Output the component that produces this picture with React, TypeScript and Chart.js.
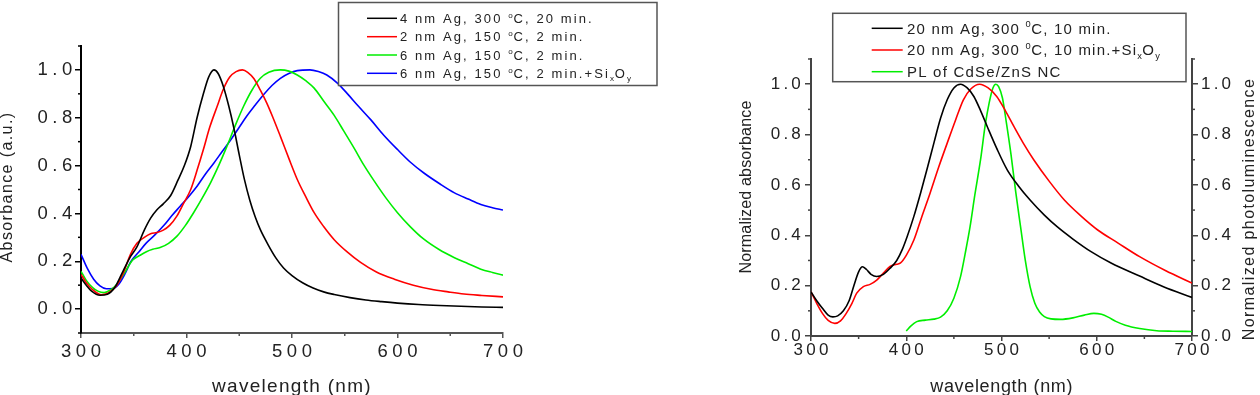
import React, { useEffect, useRef } from "react";
import { Chart, registerables } from "chart.js";

Chart.register(...registerables);

const FONT = 'Arial, "Liberation Sans", Helvetica, sans-serif';

// ---------------- Left panel data ----------------
const leftBlackWl = [300, 305, 310, 318, 325, 332, 340, 347, 353, 360, 366, 372, 378, 385, 392, 398, 404, 410, 416, 421, 426, 430, 435, 440, 445, 450, 455, 460, 465, 470, 477, 485, 492, 500, 510, 520, 530, 540, 555, 570, 585, 600, 620, 640, 660, 680, 700];
const leftBlackAbs = [0.13, 0.1, 0.075, 0.058, 0.062, 0.09, 0.16, 0.22, 0.26, 0.33, 0.38, 0.415, 0.44, 0.475, 0.54, 0.6, 0.68, 0.8, 0.9, 0.97, 1.0, 0.985, 0.93, 0.85, 0.755, 0.645, 0.54, 0.455, 0.387, 0.332, 0.272, 0.212, 0.172, 0.14, 0.11, 0.088, 0.072, 0.061, 0.048, 0.038, 0.031, 0.025, 0.019, 0.015, 0.012, 0.009, 0.007];

const leftRedWl = [300, 305, 310, 319, 326, 334, 340, 347, 353, 360, 366, 372, 378, 384, 391, 397, 404, 410, 416, 422, 429, 435, 441, 447, 453, 458, 464, 470, 476, 482, 489, 497, 505, 513, 521, 530, 540, 552, 565, 580, 597, 615, 632, 648, 663, 680, 700];
const leftRedAbs = [0.145, 0.11, 0.085, 0.06, 0.068, 0.1, 0.15, 0.23, 0.275, 0.3, 0.315, 0.32, 0.33, 0.35, 0.39, 0.44, 0.5, 0.58, 0.667, 0.76, 0.847, 0.92, 0.97, 0.993, 1.0, 0.99, 0.963, 0.915, 0.862, 0.8, 0.722, 0.63, 0.542, 0.47, 0.403, 0.345, 0.29, 0.24, 0.195, 0.155, 0.125, 0.1, 0.083, 0.072, 0.063, 0.057, 0.051];

const leftGreenWl = [300, 305, 311, 316, 322, 328, 334, 341, 349, 356, 362, 368, 375, 383, 391, 399, 407, 415, 423, 431, 438, 446, 454, 462, 470, 478, 489, 497, 505, 513, 521, 530, 540, 549, 559, 568, 578, 589, 600, 612, 625, 639, 654, 667, 679, 690, 700];
const leftGreenAbs = [0.158, 0.12, 0.09, 0.075, 0.069, 0.08, 0.104, 0.15, 0.205, 0.225, 0.24, 0.25, 0.257, 0.275, 0.305, 0.35, 0.405, 0.465, 0.53, 0.605, 0.677, 0.765, 0.847, 0.915, 0.965, 0.99, 1.0, 0.995, 0.979, 0.955, 0.924, 0.87, 0.81, 0.745, 0.672, 0.603, 0.535, 0.465, 0.403, 0.345, 0.292, 0.25, 0.215, 0.19, 0.167, 0.153, 0.142];

const leftBlueWl = [300, 306, 312, 318, 324, 330, 336, 342, 347, 355, 362, 370, 378, 386, 394, 402, 410, 418, 426, 434, 442, 450, 457, 465, 473, 481, 489, 497, 505, 517, 525, 533, 543, 552, 563, 575, 587, 600, 612, 625, 640, 654, 667, 679, 690, 700];
const leftBlueAbs = [0.229, 0.17, 0.125, 0.097, 0.085, 0.086, 0.105, 0.15, 0.197, 0.24, 0.277, 0.31, 0.347, 0.39, 0.43, 0.47, 0.514, 0.565, 0.611, 0.66, 0.708, 0.76, 0.806, 0.852, 0.896, 0.935, 0.965, 0.985, 0.997, 1.0, 0.993, 0.979, 0.945, 0.903, 0.848, 0.79, 0.727, 0.667, 0.615, 0.569, 0.524, 0.486, 0.46, 0.4375, 0.424, 0.414];

const leftLabels = [
  "4 nm Ag, 300 {^o}C, 20 min.",
  "2 nm Ag, 150 {^o}C, 2 min.",
  "6 nm Ag, 150 {^o}C, 2 min.",
  "6 nm Ag, 150 {^o}C, 2 min.+Si{_x}O{_y}",
];
const leftXTicks = [300, 400, 500, 600, 700];
const leftXMinor = [350, 450, 550, 650];
const leftYTicks = [0, 0.2, 0.4, 0.6, 0.8, 1.0];
const leftYMinor = [-0.1, 0.1, 0.3, 0.5, 0.7, 0.9, 1.1];

// ---------------- Right panel data ----------------
const rightBlackWl = [300, 306, 312, 318, 323, 328, 334, 340, 345, 350, 354, 358, 363, 369, 376, 383, 390, 396, 401, 408, 415, 422, 429, 436, 443, 450, 457, 464, 471, 478, 485, 495, 506, 518, 530, 545, 559, 575, 594, 615, 645, 670, 700];
const rightBlackAbs = [0.175, 0.14, 0.11, 0.083, 0.076, 0.08, 0.1, 0.14, 0.2, 0.255, 0.275, 0.265, 0.245, 0.236, 0.245, 0.269, 0.3, 0.345, 0.395, 0.475, 0.567, 0.665, 0.766, 0.865, 0.938, 0.985, 1.0, 0.985, 0.951, 0.895, 0.832, 0.745, 0.66, 0.595, 0.54, 0.48, 0.432, 0.385, 0.335, 0.29, 0.238, 0.196, 0.153];

const rightRedWl = [300, 306, 312, 318, 325, 331, 337, 343, 348, 355, 362, 369, 376, 383, 390, 394, 400, 408, 416, 425, 434, 443, 452, 460, 468, 477, 486, 495, 504, 513, 523, 534, 550, 566, 583, 601, 622, 645, 672, 700];
const rightRedAbs = [0.175, 0.13, 0.09, 0.062, 0.05, 0.06, 0.09, 0.13, 0.17, 0.196, 0.205, 0.222, 0.25, 0.276, 0.285, 0.29, 0.32, 0.381, 0.47, 0.567, 0.67, 0.766, 0.86, 0.938, 0.982, 1.0, 0.985, 0.951, 0.895, 0.832, 0.765, 0.699, 0.615, 0.54, 0.478, 0.421, 0.37, 0.315, 0.26, 0.21];

const rightPlWl = [400, 405, 411, 420, 429, 436, 443, 450, 457, 462, 467, 472, 478, 483, 487, 491, 494, 497, 501, 505, 510, 515, 520, 525, 530, 535, 540, 545, 552, 562, 575, 587, 597, 605, 612, 620, 630, 645, 663, 680, 700];
const rightPlInt = [0.02, 0.04, 0.057, 0.063, 0.067, 0.075, 0.1, 0.15, 0.236, 0.33, 0.434, 0.56, 0.7, 0.84, 0.925, 0.985, 1.0, 0.99, 0.945, 0.85, 0.72, 0.57, 0.434, 0.3, 0.196, 0.13, 0.095, 0.077, 0.068, 0.066, 0.072, 0.083, 0.09, 0.086, 0.075, 0.058, 0.043, 0.03, 0.021, 0.019, 0.018];

const rightLabels = [
  "20 nm Ag, 300 {^0}C, 10 min.",
  "20 nm Ag, 300 {^0}C, 10 min.+Si{_x}O{_y}",
  "PL of CdSe/ZnS NC",
];
const rightXTicks = [300, 400, 500, 600, 700];
const rightXMinor = [350, 450, 550, 650];
const rightYTicks = [0, 0.2, 0.4, 0.6, 0.8, 1.0];
const rightYMinor = [0.1, 0.3, 0.5, 0.7, 0.9, 1.1];

const BLACK = "#000000";
const RED = "#ff0000";
const GREEN = "#00ee00";
const BLUE = "#0000ff";
const TEXT = "#222222";

// ---------------- helpers ----------------
type Seg = { t: string; k: "n" | "sup" | "sub" };
function parseRich(s: string): Seg[] {
  const segs: Seg[] = [];
  const re = /\{([\^_])([^}]*)\}/g;
  let last = 0;
  let m: RegExpExecArray | null;
  while ((m = re.exec(s))) {
    if (m.index > last) segs.push({ t: s.slice(last, m.index), k: "n" });
    segs.push({ t: m[2], k: m[1] === "^" ? "sup" : "sub" });
    last = re.lastIndex;
  }
  if (last < s.length) segs.push({ t: s.slice(last), k: "n" });
  return segs;
}
function stripRich(s: string) {
  return s.replace(/\{[\^_]([^}]*)\}/g, "$1");
}
function drawRich(ctx: any, s: string, x: number, baseline: number, size: number, spacing: number) {
  let cx = x;
  ctx.textAlign = "left";
  ctx.textBaseline = "alphabetic";
  for (const seg of parseRich(s)) {
    const fs = seg.k === "n" ? size : size * 0.62;
    const dy = seg.k === "sup" ? -size * 0.42 : seg.k === "sub" ? size * 0.22 : 0;
    ctx.font = `${fs}px ${FONT}`;
    ctx.letterSpacing = `${seg.k === "n" ? spacing : spacing * 0.4}px`;
    ctx.fillText(seg.t, cx, baseline + dy);
    cx += ctx.measureText(seg.t).width;
  }
}

function series(label: string, xs: number[], ys: number[], color: string, yAxisID = "y") {
  return {
    label: stripRich(label),
    data: xs.map((x, i) => ({ x, y: ys[i] })),
    borderColor: color,
    backgroundColor: color,
    borderWidth: 1.6,
    pointRadius: 0,
    tension: 0.4,
    cubicInterpolationMode: "monotone",
    fill: false,
    yAxisID,
  };
}

type TitleSpec = { text: string; x: number; y: number; rot: boolean; size: number; spacing: number };
type PanelSpec = {
  width: number;
  datasets: any[];
  xMin: number; xMax: number; yMin: number; yMax: number;
  xTicks: number[]; yTicks: number[]; xMinor: number[]; yMinor: number[];
  hasY2: boolean;
  padding: { top: number; left: number; right: number; bottom: number };
  yWidth: number; xHeight: number; y2Width: number;
  xAxisColor: string; yAxisColor: string;
  tickSize: number; tickSpacing: number;
  xTickLen: number; yTickLen: number; minorLen: number;
  xTickPad: number; yTickPad: number; y2TickPad: number;
  titles: TitleSpec[];
  legend: { box: [number, number, number, number]; line: [number, number]; textX: number; rows: number[]; size: number; spacing: number; labels: string[]; colors: string[] };
};

function zeroPad(s: any) {
  s.paddingLeft = 0; s.paddingRight = 0; s.paddingTop = 0; s.paddingBottom = 0;
}

function makeConfig(p: PanelSpec): any {
  const tickFont = { family: FONT, size: p.tickSize, lineHeight: 1 };
  const yAxis = (pos: string, pad: number, width: number) => ({
    type: "linear",
    position: pos,
    min: p.yMin,
    max: p.yMax,
    afterBuildTicks: (s: any) => { s.ticks = p.yTicks.map((v) => ({ value: v })); },
    afterFit: (s: any) => { s.width = width; zeroPad(s); },
    ticks: { font: tickFont, color: TEXT, padding: pad, autoSkip: false, callback: (v: any) => Number(v).toFixed(1) },
    grid: { drawOnChartArea: false, drawTicks: true, tickLength: p.yTickLen, color: p.yAxisColor, lineWidth: 1.5 },
    border: { display: true, color: p.yAxisColor, width: 2 },
    title: { display: false },
  });
  const scales: any = {
    x: {
      type: "linear",
      position: "bottom",
      min: p.xMin,
      max: p.xMax,
      afterBuildTicks: (s: any) => { s.ticks = p.xTicks.map((v) => ({ value: v })); },
      afterFit: (s: any) => { s.height = p.xHeight; zeroPad(s); },
      ticks: { font: tickFont, color: TEXT, padding: p.xTickPad, maxRotation: 0, autoSkip: false, labelOffset: p.tickSpacing / 2, callback: (v: any) => String(v) },
      grid: { drawOnChartArea: false, drawTicks: true, tickLength: p.xTickLen, color: p.xAxisColor, lineWidth: 1.5 },
      border: { display: true, color: p.xAxisColor, width: 2 },
      title: { display: false },
    },
    y: yAxis("left", p.yTickPad, p.yWidth),
  };
  if (p.hasY2) scales.y2 = yAxis("right", p.y2TickPad, p.y2Width);

  const plugin = {
    id: "decor",
    beforeDraw(chart: any) {
      chart.ctx.letterSpacing = `${p.tickSpacing}px`;
    },
    beforeDatasetsDraw(chart: any) {
      chart.ctx.letterSpacing = "0px";
    },
    afterDraw(chart: any) {
      const ctx = chart.ctx;
      ctx.save();
      ctx.letterSpacing = "0px";
      // minor ticks
      const xs = chart.scales.x;
      ctx.strokeStyle = p.xAxisColor;
      ctx.lineWidth = 1.5;
      for (const v of p.xMinor) {
        const px = xs.getPixelForValue(v);
        ctx.beginPath(); ctx.moveTo(px, xs.top); ctx.lineTo(px, xs.top + p.minorLen); ctx.stroke();
      }
      const ys = chart.scales.y;
      ctx.strokeStyle = p.yAxisColor;
      for (const v of p.yMinor) {
        const py = ys.getPixelForValue(v);
        ctx.beginPath(); ctx.moveTo(ys.right - p.minorLen, py); ctx.lineTo(ys.right, py); ctx.stroke();
      }
      if (p.hasY2) {
        const y2 = chart.scales.y2;
        for (const v of p.yMinor) {
          const py = y2.getPixelForValue(v);
          ctx.beginPath(); ctx.moveTo(y2.left, py); ctx.lineTo(y2.left + p.minorLen, py); ctx.stroke();
        }
      }
      // axis titles
      ctx.fillStyle = TEXT;
      for (const t of p.titles) {
        ctx.save();
        ctx.font = `${t.size}px ${FONT}`;
        ctx.letterSpacing = `${t.spacing}px`;
        ctx.textAlign = "center";
        ctx.textBaseline = "alphabetic";
        ctx.translate(t.x, t.y);
        if (t.rot) ctx.rotate(-Math.PI / 2);
        ctx.fillText(t.text, 0, 0);
        ctx.restore();
      }
      // legend
      const L = p.legend;
      const [x1, y1, x2, y2b] = L.box;
      ctx.fillStyle = "#ffffff";
      ctx.fillRect(x1, y1, x2 - x1, y2b - y1);
      ctx.strokeStyle = "#555555";
      ctx.lineWidth = 1.5;
      ctx.strokeRect(x1, y1, x2 - x1, y2b - y1);
      L.labels.forEach((lab, i) => {
        const ry = L.rows[i];
        ctx.strokeStyle = L.colors[i];
        ctx.lineWidth = 1.5;
        ctx.beginPath(); ctx.moveTo(L.line[0], ry); ctx.lineTo(L.line[1], ry); ctx.stroke();
        ctx.fillStyle = TEXT;
        drawRich(ctx, lab, L.textX, ry + L.size * 0.36, L.size, L.spacing);
      });
      ctx.restore();
      ctx.letterSpacing = "0px";
    },
  };

  return {
    type: "line",
    data: { datasets: p.datasets },
    options: {
      animation: false,
      responsive: false,
      maintainAspectRatio: false,
      devicePixelRatio: 1,
      events: [],
      layout: { padding: p.padding },
      plugins: { legend: { display: false }, tooltip: { enabled: false }, title: { display: false } },
      scales,
    },
    plugins: [plugin],
  };
}

const leftSpec: PanelSpec = {
  width: 680,
  datasets: [
    series(leftLabels[0], leftBlackWl, leftBlackAbs, BLACK),
    series(leftLabels[1], leftRedWl, leftRedAbs, RED),
    series(leftLabels[2], leftGreenWl, leftGreenAbs, GREEN),
    series(leftLabels[3], leftBlueWl, leftBlueAbs, BLUE),
  ],
  xMin: 300, xMax: 700, yMin: -0.1, yMax: 1.1,
  xTicks: leftXTicks, yTicks: leftYTicks, xMinor: leftXMinor, yMinor: leftYMinor,
  hasY2: false,
  padding: { top: 46, left: 0, right: 177, bottom: 0 },
  yWidth: 81, xHeight: 62, y2Width: 0,
  xAxisColor: "#555555", yAxisColor: "#000000",
  tickSize: 18.5, tickSpacing: 4.6,
  xTickLen: 5, yTickLen: 6, minorLen: 3,
  xTickPad: 5, yTickPad: -2, y2TickPad: 0,
  titles: [
    { text: "wavelength (nm)", x: 292, y: 391.5, rot: false, size: 19, spacing: 1.3 },
    { text: "Absorbance (a.u.)", x: 12, y: 187, rot: true, size: 16, spacing: 1.4 },
  ],
  legend: {
    box: [338.5, 2.5, 657, 85.5], line: [367, 397], textX: 400, rows: [18.3, 36.7, 55, 73.3],
    size: 13, spacing: 2.1, labels: leftLabels, colors: [BLACK, RED, GREEN, BLUE],
  },
};

const rightSpec: PanelSpec = {
  width: 630,
  datasets: [
    series(rightLabels[0], rightBlackWl, rightBlackAbs, BLACK),
    series(rightLabels[1], rightRedWl, rightRedAbs, RED),
    series(rightLabels[2], rightPlWl, rightPlInt, GREEN, "y2"),
  ],
  xMin: 300, xMax: 700, yMin: 0, yMax: 1.1,
  xTicks: rightXTicks, yTicks: rightYTicks, xMinor: rightXMinor, yMinor: rightYMinor,
  hasY2: true,
  padding: { top: 59, left: 0, right: 0, bottom: 0 },
  yWidth: 181, xHeight: 59, y2Width: 68,
  xAxisColor: "#444444", yAxisColor: "#444444",
  tickSize: 17, tickSpacing: 3.2,
  xTickLen: 5, yTickLen: 6, minorLen: 3,
  xTickPad: 1, yTickPad: 1, y2TickPad: 3,
  titles: [
    { text: "wavelength (nm)", x: 371.7, y: 391.7, rot: false, size: 18, spacing: 0.65 },
    { text: "Normalized absorbance", x: 121, y: 187, rot: true, size: 16, spacing: 0.2 },
    { text: "Normalized photoluminescence", x: 623.5, y: 209, rot: true, size: 16, spacing: 1.4 },
  ],
  legend: {
    box: [202.7, 13.3, 556, 81.7], line: [241.7, 272.7], textX: 277, rows: [28.3, 50, 71.7],
    size: 15, spacing: 1.2, labels: rightLabels, colors: [BLACK, RED, GREEN],
  },
};

function Panel({ spec, left }: { spec: PanelSpec; left: number }) {
  const ref = useRef<HTMLCanvasElement | null>(null);
  useEffect(() => {
    if (!ref.current) return;
    const chart = new Chart(ref.current, makeConfig(spec));
    return () => chart.destroy();
  }, []);
  return (
    <canvas
      ref={ref}
      width={spec.width}
      height={395}
      style={{ position: "absolute", left, top: 0, width: spec.width, height: 395 }}
    />
  );
}

export default function App() {
  return (
    <div style={{ position: "fixed", left: 0, top: 0, width: 1260, height: 395, background: "#ffffff", overflow: "hidden" }}>
      <Panel spec={leftSpec} left={0} />
      <Panel spec={rightSpec} left={630} />
    </div>
  );
}
